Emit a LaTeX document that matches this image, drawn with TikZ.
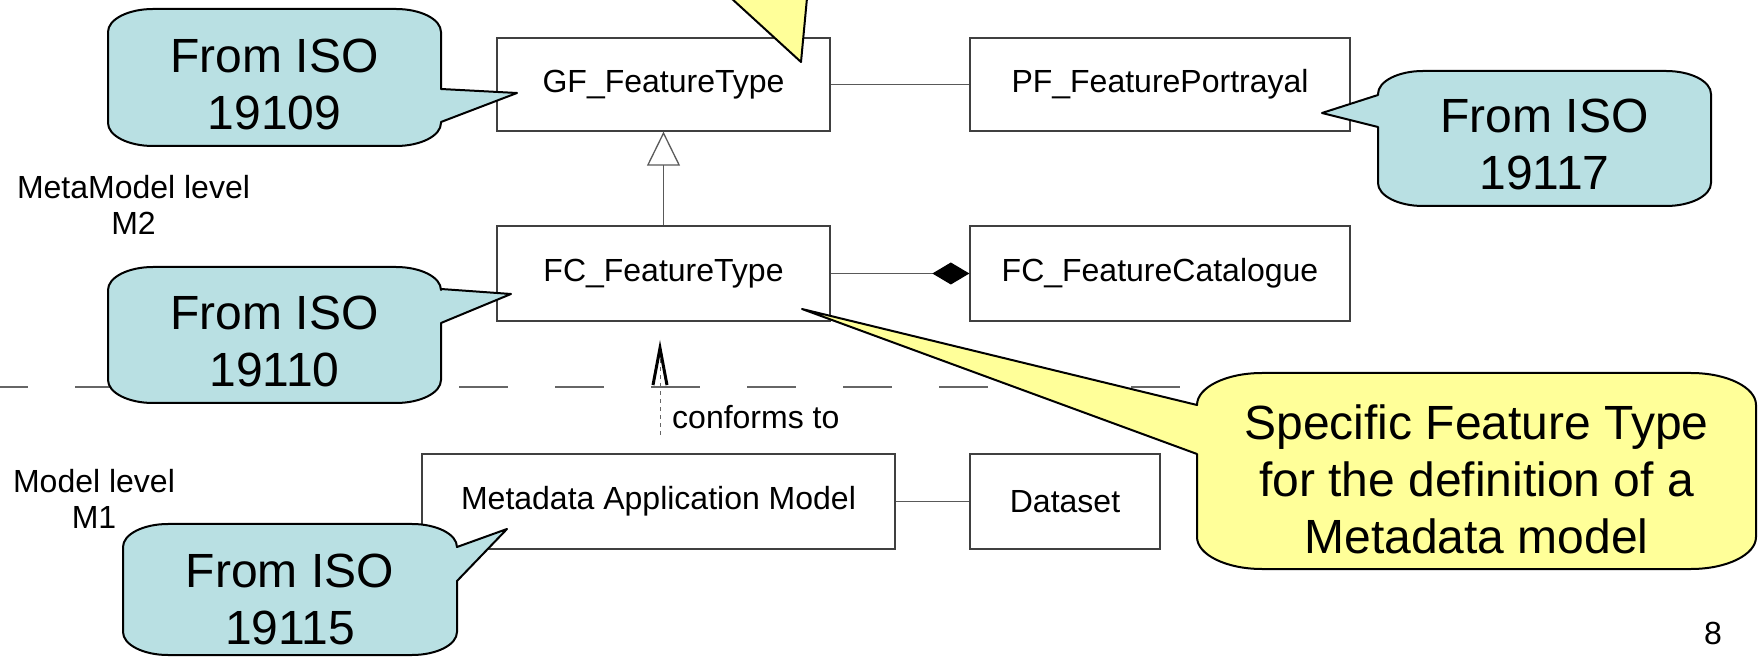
\documentclass[tikz,border=0pt]{standalone}
\usepackage{fontspec}
\setmainfont{Liberation Sans}
\usetikzlibrary{arrows.meta}
\definecolor{calloutblue}{RGB}{185,224,227}
\definecolor{calloutyellow}{RGB}{255,255,153}
\definecolor{boxline}{RGB}{64,64,64}
\begin{document}
\begin{tikzpicture}[x=1pt,y=1pt,
  umlbox/.style={draw=boxline, line width=1.3pt, fill=white, inner sep=0pt, font=\fontsize{32}{36}\selectfont},
  conn/.style={draw=black!65, line width=1.3pt},
  calloutb/.style={fill=calloutblue, draw=black, line width=2pt, line join=round},
  callouty/.style={fill=calloutyellow, draw=black, line width=2pt, line join=round},
  callouttext/.style={align=center, inner sep=0pt, font=\fontsize{48}{57}\selectfont},
  leveltext/.style={align=center, inner sep=0pt, font=\fontsize{32}{36}\selectfont},
  bc/.style={x radius=45, y radius=23},
  yc/.style={x radius=65, y radius=32},
]
\useasboundingbox (0,0) rectangle (1758,656);

% UML boxes
\node[umlbox, minimum width=333pt, minimum height=93pt] (gf) at (663.5,571.5) {GF\_FeatureType};
\node[umlbox, minimum width=380pt, minimum height=93pt] (pf) at (1160,571.5) {PF\_FeaturePortrayal};
\node[umlbox, minimum width=333pt, minimum height=95pt] (fcft) at (663.5,382.5) {FC\_FeatureType};
\node[umlbox, minimum width=380pt, minimum height=95pt] (fccat) at (1160,382.5) {FC\_FeatureCatalogue};
\node[umlbox, minimum width=473pt, minimum height=95pt] (meta) at (658.5,154.5) {Metadata Application Model};
\node[umlbox, minimum width=190pt, minimum height=95pt] (ds) at (1065,154.5) {Dataset};

% connectors
\draw[conn] (gf.east) -- (pf.west);
\draw[conn, -{Diamond[length=37pt,width=22pt,color=black]}] (fcft.east) -- (fccat.west);
\draw[conn, -{Triangle[open,length=34pt,width=33pt]}] (fcft.north) -- (gf.south);
\draw[conn] (meta.east) -- (ds.west);

% dependency
\coordinate (depbot) at (660,221);
\coordinate (deptop) at (660,316);
\draw[draw=black!60, line width=1pt, dash pattern=on 4pt off 4pt,
  -{Straight Barb[length=37pt,width=14pt,line width=3pt,color=black]}] (depbot) -- (deptop);
\node[anchor=west, inner sep=0pt, font=\fontsize{32}{36}\selectfont] (conf) at (672,239) {conforms to};

% level divider
\draw[black!60, line width=1.3pt, dash pattern=on 49pt off 47pt, dash phase=21pt] (0,269) -- (1190,269);

% level labels
\node[leveltext] (m2) at (133.5,451) {MetaModel level\\M2};
\node[leveltext] (m1) at (94,157.5) {Model level\\M1};

% callout from above (cut off)
\fill[calloutyellow] (731,658) -- (801,594) -- (807,658) -- cycle;
\draw[black, line width=2pt, line join=round] (731,658) -- (801,594) -- (807,658);

% callout 19109
\draw[calloutb] (153,647) -- (396,647) arc[start angle=90,end angle=0,bc]
  -- (441,567) -- (517,563) -- (441,534) -- (441,533)
  arc[start angle=0,end angle=-90,bc] -- (153,510)
  arc[start angle=270,end angle=180,bc] -- (108,624)
  arc[start angle=180,end angle=90,bc] -- cycle;
% callout 19110
\draw[calloutb] (153,389) -- (396,389) arc[start angle=90,end angle=0,bc]
  -- (441,367) -- (511,362) -- (441,333) -- (441,276)
  arc[start angle=0,end angle=-90,bc] -- (153,253)
  arc[start angle=270,end angle=180,bc] -- (108,366)
  arc[start angle=180,end angle=90,bc] -- cycle;
% callout 19115
\draw[calloutb] (168,132) -- (412,132) arc[start angle=90,end angle=0,bc]
  -- (507,127) -- (457,75) -- (457,24)
  arc[start angle=0,end angle=-90,bc] -- (168,1)
  arc[start angle=270,end angle=180,bc] -- (123,109)
  arc[start angle=180,end angle=90,bc] -- cycle;
% callout 19117
\draw[calloutb] (1423,585) -- (1666,585) arc[start angle=90,end angle=0,bc]
  -- (1711,473) arc[start angle=0,end angle=-90,bc] -- (1423,450)
  arc[start angle=270,end angle=180,bc] -- (1378,529) -- (1322,543) -- (1378,561) -- (1378,562)
  arc[start angle=180,end angle=90,bc] -- cycle;
% yellow callout
\draw[callouty] (1262,283) -- (1691,283) arc[start angle=90,end angle=0,yc]
  -- (1756,119) arc[start angle=0,end angle=-90,yc] -- (1262,87)
  arc[start angle=270,end angle=180,yc] -- (1197,202) -- (802,347) -- (1197,251)
  arc[start angle=180,end angle=90,yc] -- cycle;

% callout texts
\node[callouttext] (t19109) at (274.5,572) {From ISO\\19109};
\node[callouttext] (t19110) at (274.5,314.5) {From ISO\\19110};
\node[callouttext] (t19115) at (290,57) {From ISO\\19115};
\node[callouttext] (t19117) at (1544.5,512) {From ISO\\19117};
\node[callouttext] (tspec) at (1476.5,177) {Specific Feature Type\\for the definition of a\\Metadata model};

% page number
\node[inner sep=0pt, font=\fontsize{32}{36}\selectfont] (pagenum) at (1713,23) {8};
\end{tikzpicture}
\end{document}
